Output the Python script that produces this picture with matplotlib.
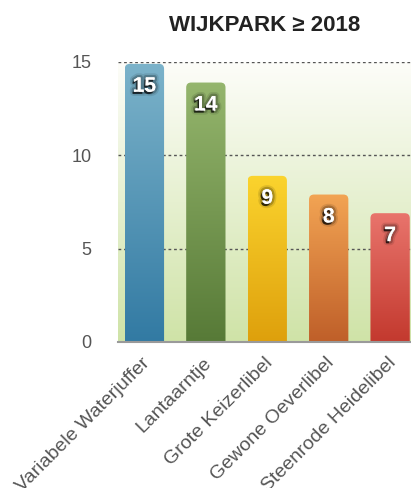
import numpy as np
import matplotlib
matplotlib.use("Agg")
import matplotlib.pyplot as plt
from matplotlib.patches import FancyBboxPatch
from matplotlib.colors import LinearSegmentedColormap
from matplotlib.transforms import ScaledTranslation
import matplotlib.patheffects as pe

plt.rcParams['font.family'] = ['Liberation Sans', 'DejaVu Sans']

# Data
species = ["Variabele Waterjuffer", "Lantaarntje", "Grote Keizerlibel",
           "Gewone Oeverlibel", "Steenrode Heidelibel"]
counts = [15, 14, 9, 8, 7]
yticks = [0, 5, 10, 15]
title = "WIJKPARK \u2265 2018"

# Bar gradients (top colour, bottom colour)
bar_colors = [("#7cb3ca", "#327aa3"),
              ("#95b66d", "#577a37"),
              ("#fbd42e", "#dea00c"),
              ("#f3a554", "#bf5f29"),
              ("#e9756d", "#c3392e")]

W, H = 411, 488
fig = plt.figure(figsize=(W / 100, H / 100), dpi=100)
ax = fig.add_axes([118 / W, (H - 342) / H, (411 - 118) / W, 280 / H])

xmin, xmax = -0.43, 4.34
ymin, ymax = 0, 15
ax.set_xlim(xmin, xmax)
ax.set_ylim(ymin, ymax)

# Plot-area background: white fading to pale green
bg = LinearSegmentedColormap.from_list("bg", ["#cfe3a7", "#fdfdf9"])
ax.imshow(np.linspace(0, 1, 256).reshape(-1, 1), cmap=bg, aspect="auto",
          extent=[0, 1, 0, 1], origin="lower", transform=ax.transAxes,
          zorder=0, interpolation="bicubic")

# Dotted gridlines
for t in yticks[1:]:
    ax.axhline(t, color="#555555", lw=1.0, ls=(0, (2, 2)), zorder=1)

# Bars with vertical gradient and rounded tops
bw = 0.64
px_x = (411 - 118) / (xmax - xmin)
px_y = 280 / (ymax - ymin)
rad = 5 / px_x
aspect = (5 / px_y) / rad
for i, (v, (ctop, cbot)) in enumerate(zip(counts, bar_colors)):
    x0 = i - bw / 2
    patch = FancyBboxPatch((x0, -1.0), bw, v + 1.0 - 0.1,
                           boxstyle=f"round,pad=0,rounding_size={rad}",
                           mutation_aspect=aspect, fc="none", ec="none",
                           zorder=2)
    ax.add_patch(patch)
    cm = LinearSegmentedColormap.from_list(f"b{i}", [cbot, ctop])
    im = ax.imshow(np.linspace(0, 1, 256).reshape(-1, 1), cmap=cm,
                   aspect="auto", extent=[x0, x0 + bw, 0, v], origin="lower",
                   zorder=3, interpolation="bicubic")
    im.set_clip_path(patch)
    ax.annotate(str(v), (i, v), xytext=(0, -17.5), textcoords="offset points",
                ha="center", va="center", color="white", fontsize=15,
                fontweight="bold", zorder=5,
                path_effects=[pe.withStroke(linewidth=6, foreground="#000000", alpha=0.1),
                              pe.withStroke(linewidth=3.5, foreground="#000000", alpha=0.22),
                              pe.SimplePatchShadow(offset=(-1, -1.5), shadow_rgbFace="#000000", alpha=0.7),
                              pe.Normal()])

ax.set_xlim(xmin, xmax)
ax.set_ylim(ymin, ymax)

# Axes styling
for s in ["top", "right", "left"]:
    ax.spines[s].set_visible(False)
ax.spines["bottom"].set_color("#9a9a9a")
ax.spines["bottom"].set_linewidth(1.5)
ax.spines["bottom"].set_zorder(6)

ax.set_yticks(yticks)
ax.set_yticklabels([str(t) for t in yticks])
ax.tick_params(axis="y", length=0, pad=19, labelsize=13, labelcolor="#555555")
ax.set_xticks(range(len(species)))
ax.set_xticklabels(species, rotation=45, ha="right", va="top",
                   rotation_mode="anchor")
ax.tick_params(axis="x", length=0, pad=9, labelsize=14, labelcolor="#555555")
shift = ScaledTranslation(-3 / 100, 0, fig.dpi_scale_trans)
for lab in ax.get_xticklabels():
    lab.set_transform(lab.get_transform() + shift)

ax.set_title(title, fontsize=16, fontweight="bold", color="#222222", pad=22)

fig.savefig("out.png", dpi=100)
